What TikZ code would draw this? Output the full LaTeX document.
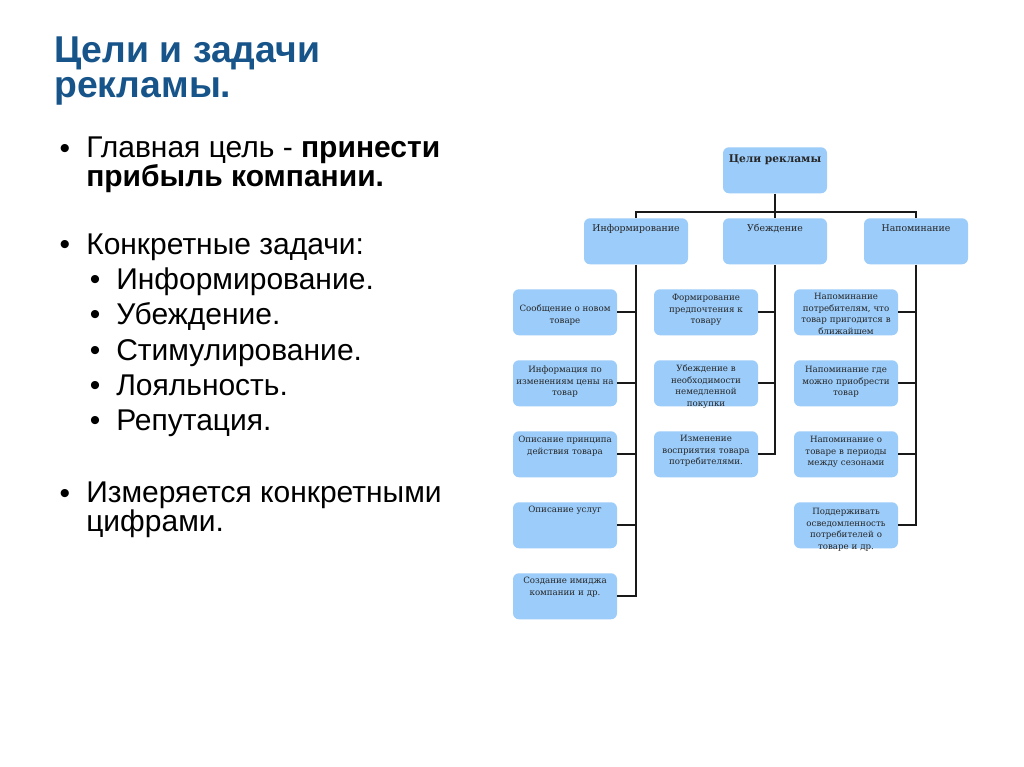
\documentclass[tikz,border=0pt]{standalone}
\usepackage{fontspec}
\setmainfont{Liberation Sans}
\newfontfamily\diagfont{DejaVu Serif}
\usetikzlibrary{positioning}
\definecolor{titleblue}{RGB}{23,84,138}
\definecolor{boxblue}{RGB}{155,204,250}

\begin{document}
\begin{tikzpicture}[x=0.75pt, y=-0.75pt,
  title/.style={anchor=base west, inner sep=0pt, align=left, text=titleblue, font=\fontsize{28pt}{26.25pt}\selectfont\bfseries},
  body/.style={anchor=base west, inner sep=0pt, align=left, font=\fontsize{22.5pt}{21.4pt}\selectfont},
  dot/.style={anchor=base, inner sep=0pt, font=\fontsize{22.5pt}{21.4pt}\selectfont},
  box/.style={anchor=north, fill=boxblue, rounded corners=4.5pt, text width=75pt, inner xsep=1.5pt, inner ysep=0pt,
    align=center, text height=8.25pt, text depth=26.25pt, text=black!85, font=\diagfont\fontsize{6.5pt}{8.8pt}\selectfont},
  head/.style={box, text height=9.75pt, text depth=24.75pt, font=\diagfont\fontsize{7pt}{8.8pt}\selectfont},
  link/.style={line width=1.4pt, black!90}]
\useasboundingbox[fill=white] (0,0) rectangle (1024,767);

% Left half: title and bullet list (multi-line nodes sit on their last baseline)
\node[title] (title) at (54,98) {Цели и задачи\\рекламы.};

\node[dot] (dot1) at (65,158) {•};
\node[body] (goal) at (86,186.5) {Главная цель - \textbf{принести}\\\textbf{прибыль компании.}};
\node[dot] (dot2) at (65,254) {•};
\node[body] (tasks) at (86,254) {Конкретные задачи:};
\foreach \t/\y [count=\i] in {Информирование./289.5, Убеждение./324.5, Стимулирование./360, Лояльность./395, Репутация./430} {
  \node[dot] (sdot\i) at (95,\y) {•};
  \node[body] (task\i) at (116,\y) {\t};
}
\node[dot] (dot3) at (65,503) {•};
\node[body] (measure) at (86,531.5) {Измеряется конкретными\\цифрами.};

% Right half: tree of advertising goals
\node[box, text height=11.25pt, text depth=23.25pt, font=\diagfont\fontsize{8pt}{9pt}\selectfont\bfseries] (aims) at (775,147) {Цели рекламы};

\node[head] (inform) at (636,218) {Информирование};
\node[head] (persuade) at (775,218) {Убеждение};
\node[head] (remind) at (916,218) {Напоминание};

% Informing column
\node[box, text height=16.5pt, text depth=18pt] (inf1) at (565,289) {Сообщение о новом\\товаре};
\node[box, text height=9pt, text depth=25.5pt] (inf2) at (565,360) {Информация по\\изменениям цены на\\товар};
\node[box] (inf3) at (565,431) {Описание принципа\\действия товара};
\node[box, text height=7.5pt, text depth=27pt] (inf4) at (565,502) {Описание услуг};
\node[box, text height=7.5pt, text depth=27pt] (inf5) at (565,573) {Создание имиджа\\компании и др.};

% Persuasion column
\node[box] (per1) at (706,289) {Формирование\\предпочтения к\\товару};
\node[box] (per2) at (706,360) {Убеждение в\\необходимости\\немедленной\\покупки};
\node[box, text height=7.5pt, text depth=27pt] (per3) at (706,431) {Изменение\\восприятия товара\\потребителями.};

% Reminding column
\node[box, text height=7.5pt, text depth=27pt] (rem1) at (846,289) {Напоминание\\потребителям, что\\товар пригодится в\\ближайшем};
\node[box, text height=9pt, text depth=25.5pt] (rem2) at (846,360) {Напоминание где\\можно приобрести\\товар};
\node[box] (rem3) at (846,431) {Напоминание о\\товаре в периоды\\между сезонами};
\node[box, text height=9pt, text depth=25.5pt] (rem4) at (846,502) {Поддерживать\\осведомленность\\потребителей о\\товаре и др.};

% Connectors
\coordinate (fork) at (775,212);
\draw[link] (aims.south) -- (persuade.north);
\draw[link] (inform.north) |- (fork) -| (remind.north);

\draw[link] (inform.south) |- (inf5.east);
\foreach \n in {inf1,inf2,inf3,inf4}
  \draw[link] (\n.east) -- (\n.east -| inform.south);
\draw[link] (persuade.south) |- (per3.east);
\foreach \n in {per1,per2}
  \draw[link] (\n.east) -- (\n.east -| persuade.south);
\draw[link] (remind.south) |- (rem4.east);
\foreach \n in {rem1,rem2,rem3}
  \draw[link] (\n.east) -- (\n.east -| remind.south);
\end{tikzpicture}
\end{document}
